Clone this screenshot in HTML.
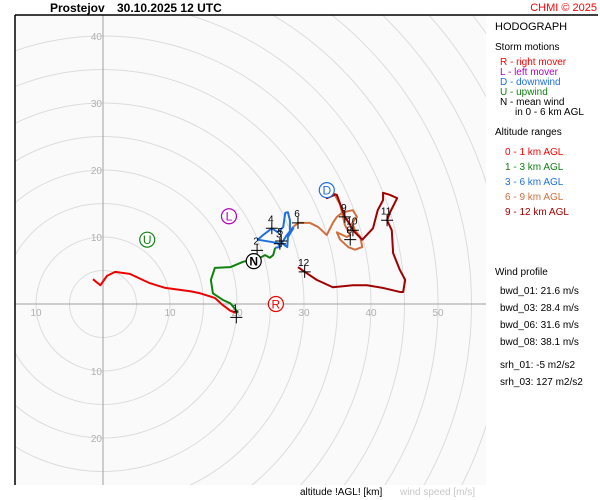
<!DOCTYPE html>
<html><head><meta charset="utf-8"><style>
html,body{margin:0;padding:0;width:600px;height:500px;overflow:hidden;background:#fff;font-family:"Liberation Sans",sans-serif}
svg{display:block}
text{font-family:"Liberation Sans",sans-serif}
</style></head><body>
<svg id="c" width="600" height="500" viewBox="0 0 600 500" xmlns="http://www.w3.org/2000/svg">
<defs><clipPath id="pc"><rect x="15" y="15" width="471" height="470"/></clipPath></defs>
<rect x="0" y="0" width="600" height="500" fill="#fff"/>
<rect x="15" y="15" width="471" height="470" fill="#fafafa"/>
<g id="grid" clip-path="url(#pc)"></g>
<g id="series" clip-path="url(#pc)"></g>
<line x1="15" y1="15" x2="598" y2="15" stroke="#000" stroke-width="1.5"/>
<line x1="15" y1="15" x2="15" y2="485" stroke="#000" stroke-width="1.5"/>
<text x="50" y="12" font-size="12" font-weight="bold">Prostejov<tspan x="117">30.10.2025 12 UTC</tspan></text>
<text x="597" y="11" font-size="11" fill="#f00" text-anchor="end">CHMI © 2025</text>
<g font-size="10">
<text x="495" y="30" font-size="11">HODOGRAPH</text>
<text x="495" y="50">Storm motions</text>
<text x="500" y="65" fill="#f00">R - right mover</text>
<text x="500" y="75" fill="#b000c0">L - left mover</text>
<text x="500" y="85" fill="#1f6fe0">D - downwind</text>
<text x="500" y="95" fill="#108010">U - upwind</text>
<text x="500" y="105" fill="#000">N - mean wind</text>
<text x="515" y="115" fill="#000">in 0 - 6 km AGL</text>
<text x="495" y="135">Altitude ranges</text>
<text x="505" y="155" fill="#f00">0 - 1 km AGL</text>
<text x="505" y="170" fill="#108010">1 - 3 km AGL</text>
<text x="505" y="185" fill="#1f6fe0">3 - 6 km AGL</text>
<text x="505" y="200" fill="#d07040">6 - 9 km AGL</text>
<text x="505" y="215" fill="#a00000">9 - 12 km AGL</text>
<text x="495" y="275">Wind profile</text>
<text x="500" y="294">bwd_01: 21.6 m/s</text>
<text x="500" y="311">bwd_03: 28.4 m/s</text>
<text x="500" y="328">bwd_06: 31.6 m/s</text>
<text x="500" y="345">bwd_08: 38.1 m/s</text>
<text x="500" y="368">srh_01: -5 m2/s2</text>
<text x="500" y="385">srh_03: 127 m2/s2</text>
</g>
<text x="300" y="495" font-size="10">altitude !AGL! [km]</text>
<text x="400" y="495" font-size="10" fill="#c8c8c8">wind speed [m/s]</text>
</svg>
<script>
const redU=[-1.5,-0.4,0.6,1.8,4.0,7.0,9.3,13.0,14.5,16.7,17.8,19.0,19.7];
const redV=[3.7,2.8,4.2,4.8,4.5,3.1,2.4,1.9,1.6,0.9,-0.1,-1.0,-1.3];
const greenU=[19.7,20.1,19.0,17.9,16.4,16.1,16.7,19.0,20.9,22.2,23.4,24.2,24.9,25.4,25.7];
const greenV=[-1.3,-1.2,0.1,0.6,1.6,3.6,5.4,5.5,6.3,6.6,6.9,7.3,6.9,7.3,8.4];
const blueU=[25.7,26.4,26.1,24.9,23.1,23.9,25.2,26.1,26.9,27.2,27.6,27.9,27.9,28.4,27.6,27.5,26.7,27.3,28.4];
const blueV=[8.4,8.5,9.1,9.3,9.6,10.3,11.3,10.7,11.5,13.6,13.7,12.5,10.7,11.3,10.0,8.5,9.1,10.1,11.5];
const orangeU=[28.4,29.1,30.9,32.1,33.4,34.3,34.9,35.8,37.3,37.9,37.2,37.6,38.4,38.7,37.6,36.6,35.4,34.9,36.4,36.9,36.1,35.4,34.6];
const orangeV=[11.5,12.1,12.1,11.5,10.3,12.1,13.0,13.7,14.0,13.0,12.1,11.0,10.0,8.5,8.1,8.5,9.6,10.7,10.0,10.3,11.8,14.8,16.3];
const darkU=[34.6,33.4,33.4,34.9,36.1,36.9,37.3,38.7,40.3,41.0,41.8,41.8,42.8,43.9,42.8,42.4,43.1,43.3,44.3,45.1,44.8,44.3,41.8,39.4,37.3,34.3,31.9,30.1,29.1];
const darkV=[16.3,15.8,16.7,16.3,13.0,11.8,11.0,9.6,11.3,14.0,15.5,16.6,16.3,15.8,13.6,12.5,11.0,7.6,5.1,3.6,1.8,1.8,2.4,2.8,2.8,2.5,3.6,4.8,5.5];
const kmLabels=["1","2","3","4","5","6","8","9","10","11","12"];
const kmU=[19.9,23.0,26.4,25.2,26.6,29.1,36.9,36.1,37.3,42.4,30.1];
const kmV=[-2.0,8.0,9.0,11.3,9.4,12.1,9.6,13.0,11.0,12.5,4.8];
const stormLabels=["R","L","D","U","N"];
const stormU=[25.8,18.8,33.4,6.6,22.5];
const stormV=[0.0,13.1,17.0,9.6,6.4];
const ringSpeeds=[5,10,15,20,25,30,35,40,45,50,55,60,65,70];
const xTicks=[-10,10,20,30,40,50];
const yTicks=[40,30,20,10,-10,-20];

const NS="http://www.w3.org/2000/svg";
const OX=103,OY=304,S=6.7;
const sx=u=>OX+u*S, sy=v=>OY-v*S;
function mk(tag,attrs,parent){const e=document.createElementNS(NS,tag);for(const k in attrs)e.setAttribute(k,attrs[k]);parent.appendChild(e);return e;}
const grid=document.getElementById('grid'),ser=document.getElementById('series');
ringSpeeds.forEach(r=>{
  const c=mk('circle',{cx:OX,cy:OY,r:r*S,fill:'none',stroke:'#dcdcdc','stroke-width':1},grid);
  
  
});
const ax1=mk('line',{x1:15,y1:OY,x2:486,y2:OY,stroke:'#a0a0a0','stroke-width':1},grid);


const ax2=mk('line',{x1:OX,y1:15,x2:OX,y2:485,stroke:'#a0a0a0','stroke-width':1},grid);


xTicks.forEach(t=>{
  const e=mk('text',{x:sx(t),y:OY+12,'font-size':10,fill:'#b0b0b0','text-anchor':'middle'},grid);e.textContent=Math.abs(t);
  
  
});
yTicks.forEach(t=>{
  const e=mk('text',{x:OX-1,y:sy(t)+4,'font-size':10,fill:'#b0b0b0','text-anchor':'end'},grid);e.textContent=Math.abs(t);
  
  
});
function line(U,V,col,name){
  const p=mk('polyline',{points:U.map((u,i)=>sx(u)+','+sy(V[i])).join(' '),fill:'none',stroke:col,'stroke-width':2,'stroke-linejoin':'round'},ser);
  
  
}
line(redU,redV,'#f00000','layer-0-1km');
line(greenU,greenV,'#108010','layer-1-3km');
line(blueU,blueV,'#1f6fe0','layer-3-6km');
line(orangeU,orangeV,'#d07040','layer-6-9km');
line(darkU,darkV,'#a00000','layer-9-12km');
kmLabels.forEach((l,i)=>{
  const x=sx(kmU[i]),y=sy(kmV[i]);
  const g=mk('g',{},ser);
  
  
  mk('path',{d:`M${x-6} ${y}H${x+6}M${x} ${y-6}V${y+6}`,stroke:'#000','stroke-width':1},g);
  const t=mk('text',{x:x-1,y:y-6,'font-size':10,'text-anchor':'middle'},g);t.textContent=l;
});
const stormCol=['#f00000','#b000c0','#1f6fe0','#108010','#000'];
stormLabels.forEach((l,i)=>{
  const x=sx(stormU[i]),y=sy(stormV[i]);
  const g=mk('g',{},ser);
  
  
  mk('circle',{cx:x,cy:y,r:7.5,fill:'#fff',stroke:stormCol[i],'stroke-width':1.2},g);
  const t=mk('text',{x:x,y:y+4.5,'font-size':12,'text-anchor':'middle',fill:stormCol[i],'font-weight':l==='N'?'bold':'normal'},g);t.textContent=l;
});
</script>
</body></html>
